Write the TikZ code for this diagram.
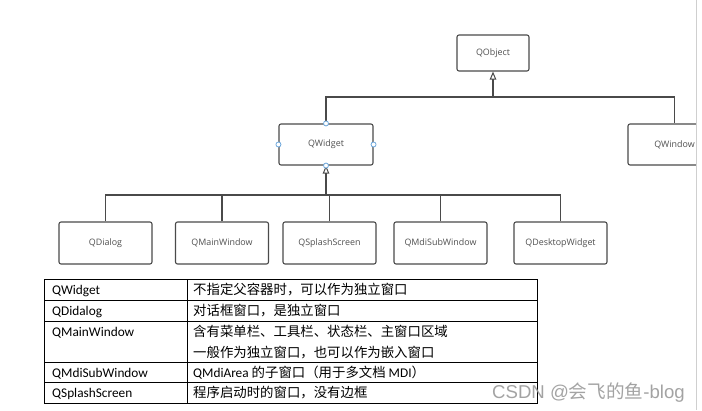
\documentclass[tikz,border=0pt]{standalone}
\usepackage{fontspec}
\setmainfont{Carlito}
\newfontfamily\cjk{Noto Sans CJK SC}
\newfontfamily\boxfont{Open Sans}
\newfontfamily\wmfont{Liberation Sans}
\usetikzlibrary{arrows.meta}
\definecolor{lineg}{HTML}{4A4A4A}
\definecolor{textg}{HTML}{505050}
\definecolor{handle}{HTML}{6FA8DC}
\definecolor{edgeg}{HTML}{CFCFCF}
\definecolor{wmg}{HTML}{9A9A9A}
\tikzset{
  cls/.style={draw=lineg, line width=1.1pt, rounded corners=2pt, fill=white,
    minimum width=93pt, minimum height=42pt, inner sep=0pt,
    font=\boxfont\fontsize{8.9}{10}\selectfont, text=textg},
  conn/.style={draw=lineg, line width=1.1pt},
  inherit/.style={conn, -{Triangle[open, length=8pt, width=6.5pt, line width=1pt]}},
  hnd/.style={circle, draw=handle, fill=white, line width=0.8pt, inner sep=0pt, minimum size=5pt},
  cellA/.style={anchor=base west, inner sep=0pt, font=\fontsize{13.3}{15}\selectfont},
  cellB/.style={anchor=base west, inner sep=0pt, font=\cjk\fontsize{13.4}{15}\selectfont},
  tline/.style={draw=black, line width=0.8pt}
}
\begin{document}
\begin{tikzpicture}[x=1pt,y=-1pt]
\useasboundingbox (0,0) rectangle (702,410);
\fill[white] (0,0) rectangle (702,410);

\begin{scope}
\clip (0,0) rectangle (696,410);
% nodes
\node[cls, minimum width=72pt, minimum height=36pt] (qobject) at (493,53) {QObject};
\node[cls, minimum width=94pt, minimum height=41pt] (qwidget) at (326,144.5) {QWidget};
\node[cls, minimum height=41pt] (qwindow) at (674.5,144.5) {QWindow};
\node[cls] (qdialog) at (105.5,243) {QDialog};
\node[cls] (qmain) at (222,243) {QMainWindow};
\node[cls] (qsplash) at (329.5,243) {QSplashScreen};
\node[cls] (qmdi) at (440.5,243) {QMdiSubWindow};
\node[cls] (qdesk) at (560.5,243) {QDesktopWidget};

% connectors level 1
\coordinate (bus1) at (493,97);
\draw[conn] (qwidget.north) |- (bus1) -| (qwindow.north);
\draw[inherit] (bus1) -- (qobject.south);

% connectors level 2
\coordinate (bus2) at (326,195);
\draw[inherit] (bus2) -- (qwidget.south);
\draw[conn] (qdialog.north) |- (qdesk.north |- bus2) -- (qdesk.north);
\draw[conn] (qmain.north) -- (qmain.north |- bus2);
\draw[conn] (qsplash.north) -- (qsplash.north |- bus2);
\draw[conn] (qmdi.north) -- (qmdi.north |- bus2);
\end{scope}

% selection handles
\node[hnd] (h1) at (qwidget.north) {};
\node[hnd] (h2) at (qwidget.west) {};
\node[hnd] (h3) at (qwidget.east) {};
\node[hnd] (h4) at (qwidget.south) {};

% page edge
\draw[edgeg, line width=1pt] (696.5,0) -- (696.5,410);

% table
\draw[tline] (44,279) rectangle (537,403);
\draw[tline] (44,300) -- (537,300);
\draw[tline] (44,321) -- (537,321);
\draw[tline] (44,362) -- (537,362);
\draw[tline] (44,382) -- (537,382);
\draw[tline] (187,279) -- (187,403);

\node[cellA] (a1) at (52,294.5) {QWidget};
\node[cellA] (a2) at (52,315.5) {QDidalog};
\node[cellA] (a3) at (52,336.5) {QMainWindow};
\node[cellA] (a4) at (52,377) {QMdiSubWindow};
\node[cellA] (a5) at (52,397.5) {QSplashScreen};

\node[cellB] (b1) at (193,294.5) {不指定父容器时，可以作为独立窗口};
\node[cellB] (b2) at (193,315.5) {对话框窗口，是独立窗口};
\node[cellB] (b3) at (193,336.5) {含有菜单栏、工具栏、状态栏、主窗口区域};
\node[cellB] (b3b) at (193,357) {一般作为独立窗口，也可以作为嵌入窗口};
\node[cellB] (b4) at (193,377) {{\rmfamily\fontsize{13.3}{15}\selectfont QMdiArea} 的子窗口（用于多文档 {\rmfamily\fontsize{13.3}{15}\selectfont MDI}）};
\node[cellB] (b5) at (193,397.5) {程序启动时的窗口，没有边框};

% watermark
\node[anchor=base west, inner sep=0pt, text=wmg, text opacity=0.9,
  font=\wmfont\fontsize{18.6}{20}\selectfont] (wm) at (492,398)
  {CSDN @{\cjk 会飞的鱼}-blog};
\end{tikzpicture}
\end{document}
